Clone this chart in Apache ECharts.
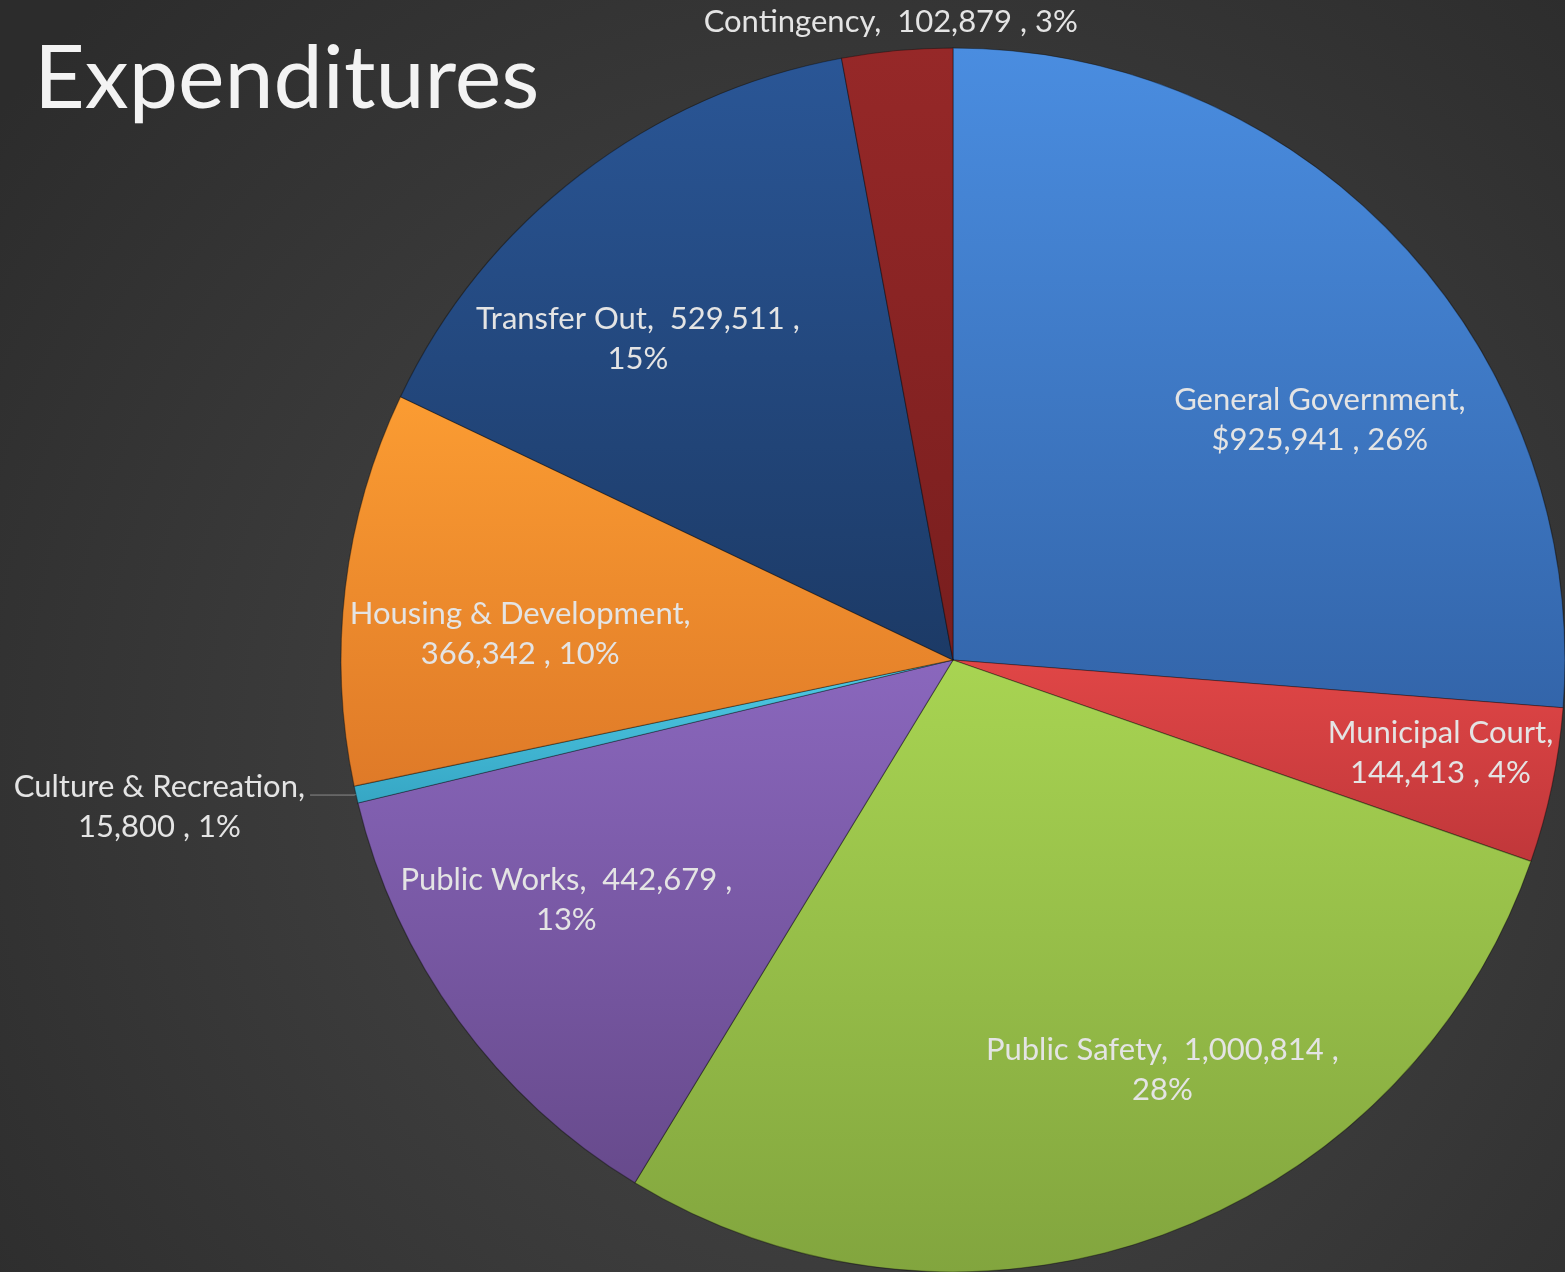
<!DOCTYPE html>
<html>
<head>
<meta charset="utf-8">
<script src="https://cdn.jsdelivr.net/npm/echarts@6/dist/echarts.min.js"></script>
<style>
html,body{margin:0;padding:0;width:1565px;height:1272px;overflow:hidden;background:#3a3a3a;}
#chart{width:1565px;height:1272px;}
</style>
</head>
<body>
<div id="chart"></div>
<script>
// ---- data ----
const categories = ['General Government','Municipal Court','Public Safety','Public Works','Culture & Recreation','Housing & Development','Transfer Out','Contingency'];
const values = [925941, 144413, 1000814, 442679, 15800, 366342, 529511, 102879];
const percentLabels = ['26%','4%','28%','13%','1%','10%','15%','3%'];
const valuePrefixes = ['$','','','','','','',''];

// ---- styling ----
const colorTop = ['#4a8de0','#e04646','#a8d452','#8a67bd','#50cbe6','#fb9c32','#2a5696','#962828'];
const colorBottom = ['#3365aa','#c0373a','#82a53e','#674a8c','#36a6c4','#df7a28','#1c3a66','#781e1e'];
const lineBreakMode = ['name','name','pct','pct','name','name','pct','none'];
const labelNudge = [[140,-30],[185,30],[105,119],[-137,58],[0,0],[-126,11],[-127,-76],[-34,-330]];

function fmtLabel(i){
  const v = valuePrefixes[i] + values[i].toLocaleString('en-US');
  const n = categories[i];
  const p = percentLabels[i];
  if (lineBreakMode[i] === 'name') return n + ',\n' + v + ' , ' + p;
  if (lineBreakMode[i] === 'pct') return n + ',  ' + v + ' ,\n' + p;
  return n + ',  ' + v + ' , ' + p;
}

const data = categories.map((name, i) => {
  const item = {
    name: name,
    value: values[i],
    itemStyle: {
      color: {type:'linear', x:0, y:0, x2:0, y2:1, colorStops:[{offset:0,color:colorTop[i]},{offset:1,color:colorBottom[i]}]}
    }
  };
  if (i === 4) {
    item.label = {
      position: 'outside',
      formatter: '{a|Culture & Recreation,}\n{a|' + values[i].toLocaleString('en-US') + ' , ' + percentLabels[i] + '}',
      rich: { a: { align: 'center', fontSize: 31, lineHeight: 40, color: '#e4e4e4', fontFamily: 'Lato' } },
      padding: [24,0,0,0]
    };
    item.labelLine = { show: true, length: 2, length2: 44, lineStyle: { color: '#8a8a8a', width: 1 } };
  }
  return item;
});

const chart = echarts.init(document.getElementById('chart'), null, {renderer:'canvas'});
chart.setOption({
  backgroundColor: {
    type: 'radial', x: 0.55, y: 0.6, r: 0.85,
    colorStops: [{offset:0, color:'#4a4a4a'},{offset:1, color:'#2c2c2c'}]
  },
  title: {
    text: 'Expenditures',
    left: 29, top: 31,
    textStyle: { color:'#f3f3f3', fontSize: 88, fontWeight:'normal', fontFamily:'Lato' }
  },
  series: [{
    type: 'pie',
    center: [953, 660],
    radius: [0, 612],
    startAngle: 90,
    clockwise: true,
    animation: false,
    avoidLabelOverlap: false,
    data: data,
    itemStyle: { borderColor: 'rgba(0,0,0,0.35)', borderWidth: 1.2 },
    label: {
      show: true,
      position: 'inside',
      formatter: p => fmtLabel(p.dataIndex),
      color: '#e4e4e4',
      fontSize: 31,
      lineHeight: 40,
      fontFamily: 'Lato',
      align: 'center'
    },
    labelLine: { show: false },
    labelLayout: function (params) {
      const o = labelNudge[params.dataIndex];
      return { dx: o[0], dy: o[1] };
    }
  }]
});
</script>
</body>
</html>
